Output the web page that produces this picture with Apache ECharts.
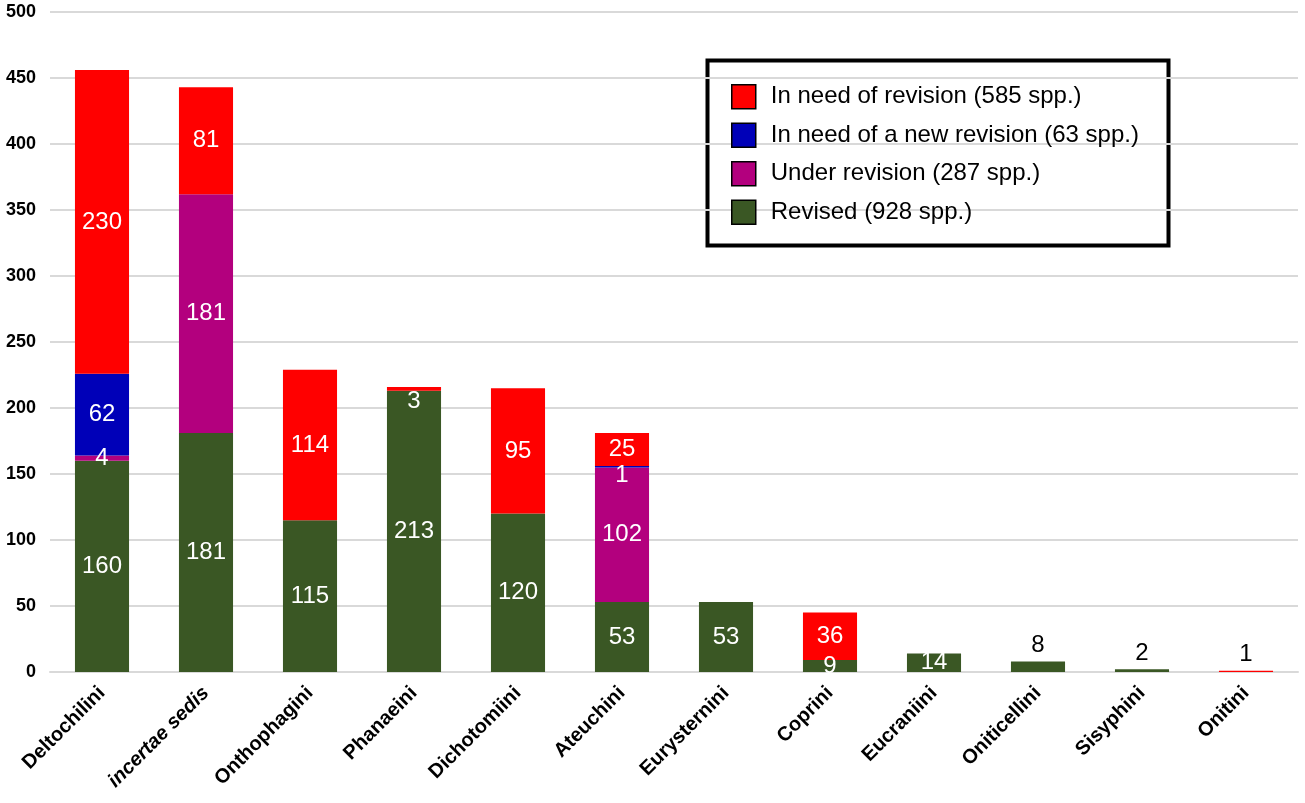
<!DOCTYPE html>
<html>
<head>
<meta charset="utf-8">
<script src="https://cdn.jsdelivr.net/npm/echarts@6/dist/echarts.min.js"></script>
<style>
  html, body { margin: 0; padding: 0; background: #fff; }
  #chart { width: 1305px; height: 803px; }
</style>
</head>
<body>
<div id="chart"></div>
<script>
const tribes = ['Deltochilini', 'incertae sedis', 'Onthophagini', 'Phanaeini', 'Dichotomiini', 'Ateuchini',
  'Eurysternini', 'Coprini', 'Eucraniini', 'Oniticellini', 'Sisyphini', 'Onitini']

const revised = [160, 181, 115, 213, 120, 53, 53, 9, 14, 8, 2, 0]
const underRevision = [4, 181, 0, 0, 0, 102, 0, 0, 0, 0, 0, 0]
const newRevision = [62, 0, 0, 0, 0, 1, 0, 0, 0, 0, 0, 0]
const needRevision = [230, 81, 114, 3, 95, 25, 0, 36, 0, 0, 0, 1]

const seriesNames = ['In need of revision (585 spp.)', 'In need of a new revision (63 spp.)',
  'Under revision (287 spp.)', 'Revised (928 spp.)']
const yTicks = [0, 50, 100, 150, 200, 250, 300, 350, 400, 450, 500]

const FONT = '"Liberation Sans", Arial, sans-serif'

// labels for thin segments get nudged or moved above the bar
const labelOffsets = { 'needRevision-3': [0, 13], 'newRevision-5': [0, 9] }
const labelsOnTop = { 'revised-9': true, 'revised-10': true, 'needRevision-11': true }

function buildData(key, values) {
  return values.map((v, i) => {
    const id = key + '-' + i
    const item = { value: v }
    if (labelsOnTop[id]) {
      item.label = { position: 'top', color: '#000', distance: 4 }
    } else if (labelOffsets[id]) {
      item.label = { offset: labelOffsets[id] }
    }
    return item
  })
}

function makeSeries(key, name, values, color) {
  return {
    name: name,
    type: 'bar',
    stack: 'total',
    barWidth: '52%',
    itemStyle: { color: color },
    label: {
      show: true,
      position: 'inside',
      color: '#fff',
      fontFamily: FONT,
      fontSize: 24,
      formatter: p => (p.value ? String(p.value) : '')
    },
    data: buildData(key, values)
  }
}

const chart = echarts.init(document.getElementById('chart'))
chart.setOption({
  animation: false,
  backgroundColor: '#fff',
  grid: { left: 50, right: 7, top: 12, bottom: 131 },
  graphic: [{
    type: 'rect',
    left: 705,
    top: 58,
    shape: { width: 461, height: 185 },
    style: { fill: 'none', stroke: '#000', lineWidth: 4 }
  }],
  legend: {
    orient: 'vertical',
    left: 731,
    top: 84,
    padding: 0,
    itemWidth: 24,
    itemHeight: 24,
    itemGap: 13,
    icon: 'rect',
    itemStyle: { borderColor: '#000', borderWidth: 1.5 },
    textStyle: { fontFamily: FONT, fontSize: 24, color: '#000', padding: [0, 0, 0, 10] },
    data: seriesNames
  },
  xAxis: {
    type: 'category',
    data: tribes,
    axisLine: { lineStyle: { color: '#d9d9d9', width: 2 } },
    axisTick: { show: false },
    axisLabel: {
      rotate: 45,
      interval: 0,
      margin: 18,
      fontFamily: FONT,
      fontSize: 20,
      fontWeight: 'bold',
      color: '#000',
      formatter: v => (v === 'incertae sedis' ? '{it|' + v + '}' : v),
      rich: { it: { fontStyle: 'italic', fontWeight: 'bold', fontFamily: FONT, fontSize: 20, color: '#000' } }
    }
  },
  yAxis: {
    type: 'value',
    min: yTicks[0],
    max: yTicks[yTicks.length - 1],
    interval: 50,
    axisLine: { show: false },
    axisTick: { show: false },
    splitLine: { lineStyle: { color: '#d9d9d9', width: 2 } },
    axisLabel: { margin: 14, fontFamily: FONT, fontSize: 18, fontWeight: 'bold', color: '#000' }
  },
  series: [
    makeSeries('revised', seriesNames[3], revised, '#3a5724'),
    makeSeries('underRevision', seriesNames[2], underRevision, '#b3007e'),
    makeSeries('newRevision', seriesNames[1], newRevision, '#0000b8'),
    makeSeries('needRevision', seriesNames[0], needRevision, '#ff0000')
  ]
})
</script>
</body>
</html>
